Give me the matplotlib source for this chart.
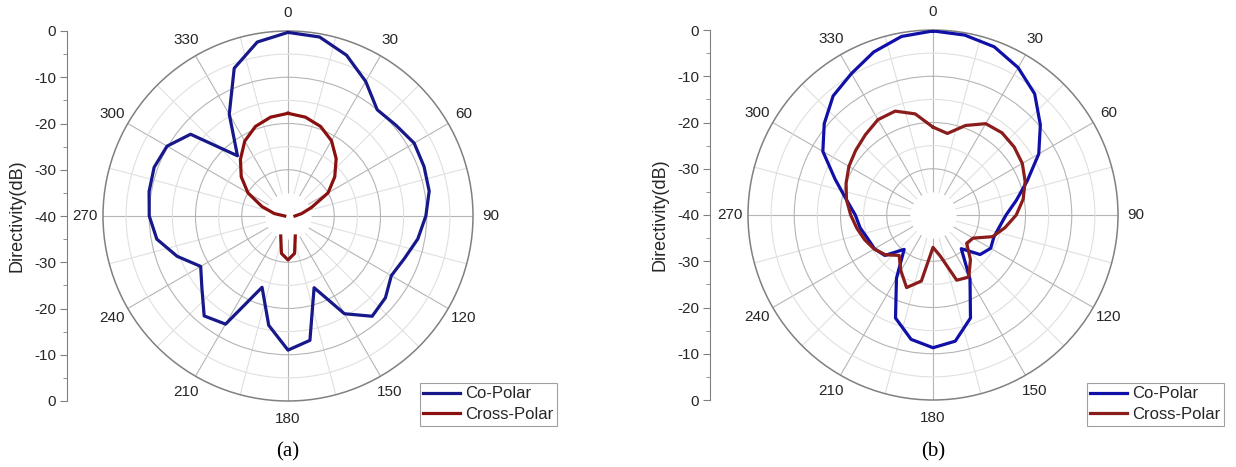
import numpy as np
import matplotlib
matplotlib.use("Agg")
import matplotlib.pyplot as plt

plt.rcParams['font.family'] = ['Liberation Sans', 'DejaVu Sans']

# radiation pattern cuts, one sample every 10 degrees
# nan = value below the -40 dB floor of the radial axis
angles = np.arange(0, 360, 10)

co_a = [-0.3, -0.7, -3.0, -6.4, -10.0, -9.5, -8.5, -8.7, -9.0, -10.2,
        -11.5, -13.2, -14.2, -12.5, -11.7, -15.6, -23.5, -12.7, -11.0, -16.0,
        -23.6, -13.0, -11.8, -15.7, -18.2, -14.5, -11.2, -10.0, -9.5, -9.2,
        -9.8, -12.5, -23.0, -14.6, -6.0, -1.8]
cross_a = [-17.8, -18.3, -19.4, -21.2, -23.8, -26.8, -30.0, -34.6, -37.0, -38.5,
           np.nan, np.nan, np.nan, np.nan, np.nan, np.nan, -35.4, -31.8, -30.5, -31.8,
           -35.4, np.nan, np.nan, np.nan, np.nan, np.nan, np.nan, -39.3, -37.0, -34.0,
           -30.0, -26.8, -24.0, -21.3, -19.4, -18.3]

co_b = [-0.2, -0.5, -1.3, -3.2, -5.8, -9.7, -13.6, -18.3, -21.7, -24.2,
        -25.4, -26.0, -25.6, -26.7, -30.5, -24.0, -16.3, -12.3, -11.3, -12.7,
        -16.3, -24.2, -30.3, -26.4, -25.4, -25.0, -24.0, -23.2, -21.0, -17.5,
        -12.5, -9.3, -6.4, -4.7, -2.5, -0.8]
cross_b = [-21.0, -22.1, -19.4, -17.2, -16.8, -17.1, -17.7, -18.8, -20.2, -22.0,
           -24.2, -26.3, -30.0, -30.5, -27.4, -24.5, -25.0, -31.0, -33.0, -25.5,
           -23.3, -26.1, -28.6, -26.6, -25.3, -24.3, -23.3, -22.2, -21.0, -20.0,
           -19.0, -18.2, -17.3, -16.2, -16.1, -17.8]

theta_ticks = np.arange(0, 360, 30)
theta_labels = [str(a) for a in theta_ticks]
# the side scale runs 0 .. -40 (centre) .. 0
side_ticks = [-40, -30, -20, -10, 0, 10, 20, 30, 40]
side_labels = ['0', '-10', '-20', '-30', '-40', '-30', '-20', '-10', '0']

W, H = 1236, 467
R = 185
fig = plt.figure(figsize=(W / 100, H / 100), dpi=100)

grey = '#808080'
txt = '#262626'


def panel(cx, cy, co, cross, co_col, cross_col, axis_x, leg_x, tag):
    ax = fig.add_axes([(cx - R) / W, (H - cy - R) / H, 2 * R / W, 2 * R / H],
                      projection='polar')
    ax.set_theta_zero_location('N')
    ax.set_theta_direction(-1)
    ax.set_rlim(-40, 0)

    ax.set_xticks(np.deg2rad(theta_ticks))
    ax.set_xticklabels(theta_labels, fontsize=11, color=txt)
    ax.set_xticks(np.deg2rad(np.arange(15, 360, 30)), minor=True)
    ax.set_yticks([-30, -20, -10])
    ax.set_yticks([-25, -15, -5], minor=True)
    ax.set_yticklabels([])
    ax.tick_params(axis='y', which='both', length=0)
    ax.tick_params(axis='x', which='both', direction='in', length=4,
                   color=grey, pad=6)
    ax.set_axisbelow(True)
    ax.grid(which='major', color='#b5b5b5', lw=0.8)
    ax.grid(which='minor', color='#e0e0e0', lw=0.8)
    ax.spines['polar'].set_color(grey)
    ax.spines['polar'].set_linewidth(1.1)

    # empty hub in the middle
    ring = np.linspace(0, 2 * np.pi, 300)
    ax.fill_between(ring, -40, -35, color='white', lw=0, zorder=1)

    th = np.deg2rad(np.append(angles, 360))
    ax.plot(th, np.append(co, co[0]), color=co_col, lw=2.3,
            label='Co-Polar', zorder=3)
    ax.plot(th, np.append(cross, cross[0]), color=cross_col, lw=2.3,
            label='Cross-Polar', zorder=3)

    # vertical dB scale on the left
    axl = fig.add_axes([axis_x / W, (H - cy - R) / H, 0.0001, 2 * R / H])
    axl.patch.set_visible(False)
    axl.set_ylim(-40, 40)
    for s in ['top', 'right', 'bottom']:
        axl.spines[s].set_visible(False)
    axl.spines['left'].set_color(grey)
    axl.set_xticks([])
    axl.set_yticks(side_ticks)
    axl.set_yticklabels(side_labels)
    axl.set_yticks(np.arange(-35, 40, 10), minor=True)
    axl.tick_params(axis='y', which='major', length=5, color=grey,
                    labelsize=11, labelcolor=txt, pad=3)
    axl.tick_params(axis='y', which='minor', length=3, color=grey)
    axl.set_ylabel('Directivity(dB)', fontsize=13, color=txt, labelpad=6)

    leg = ax.legend(loc='upper left', bbox_to_anchor=(leg_x / W, 1 - 383 / H),
                    bbox_transform=fig.transFigure, borderaxespad=0,
                    fontsize=12, frameon=True, fancybox=False, framealpha=1,
                    edgecolor='#a0a0a0', handlelength=2.2, handletextpad=0.3,
                    borderpad=0.2, labelspacing=0.35)
    leg.get_frame().set_linewidth(0.8)
    for t in leg.get_texts():
        t.set_color(txt)

    fig.text(cx / W, 1 - 452 / H, tag, ha='center', va='center',
             family=['Liberation Serif'], fontsize=15, color='black')


panel(288, 216, co_a, cross_a, '#17188a', '#8a1010', 67, 420, '(a)')
panel(933, 215, co_b, cross_b, '#1010a8', '#8b1c1c', 710, 1087, '(b)')

fig.savefig('out.png', dpi=100)
